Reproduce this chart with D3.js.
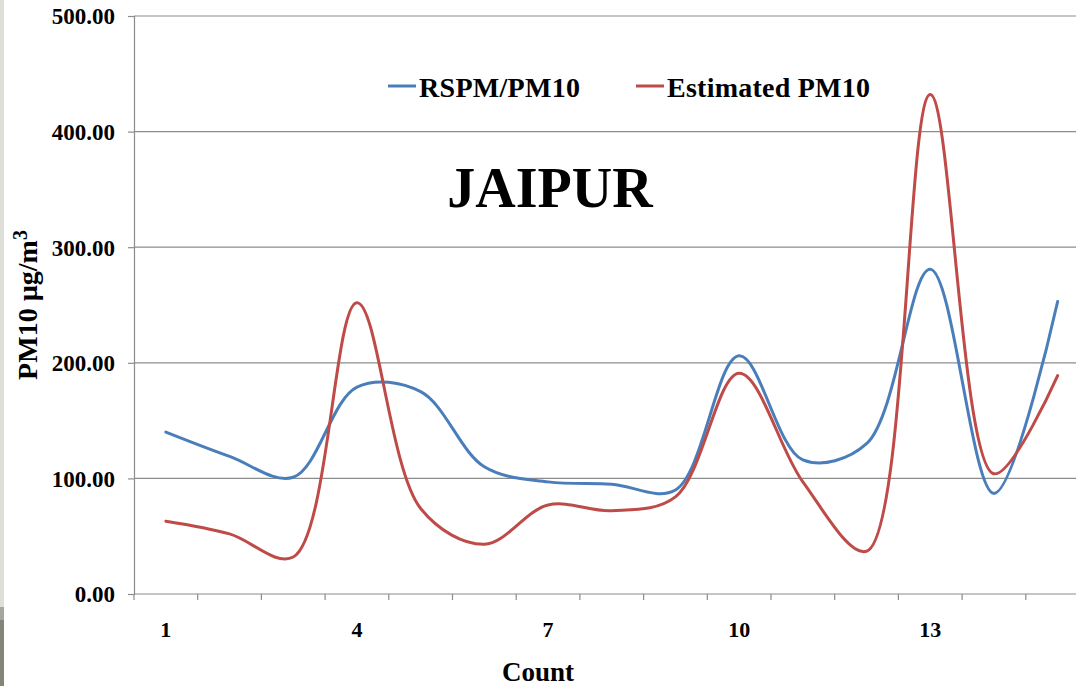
<!DOCTYPE html>
<html>
<head>
<meta charset="utf-8">
<script src="https://cdn.jsdelivr.net/npm/d3@7/dist/d3.min.js"></script>
<style>
  html, body { margin: 0; padding: 0; background: #ffffff; }
  svg { display: block; }
  text { font-family: "Liberation Serif", "Times New Roman", serif; font-weight: bold; fill: #000; }
</style>
</head>
<body>
<svg id="chart" width="1076" height="686"></svg>
<script>
// Monitoring counts along the x axis
const counts = [1, 2, 3, 4, 5, 6, 7, 8, 9, 10, 11, 12, 13, 14, 15];
// Measured RSPM / PM10 (µg/m3)
const rspmPM10 = [140, 119, 101, 179, 175, 110, 97, 95, 90, 206, 116, 130, 281, 87, 253];
// Estimated PM10 (µg/m3)
const estimatedPM10 = [63, 52, 32, 252, 74, 43, 77, 72, 84, 191, 97, 37, 432, 104, 189];
// Axis ticks
const yTicks = [0, 100, 200, 300, 400, 500];
const xTickLabels = [1, 4, 7, 10, 13];

const seriesNames = ["RSPM/PM10", "Estimated PM10"];
const seriesColors = ["#4a7ebb", "#be4b48"];

const W = 1076, H = 686;
const svg = d3.select("#chart");

// page background with the slide edge strip on the left
svg.append("rect").attr("width", W).attr("height", H).attr("fill", "#ffffff");
svg.append("rect").attr("x", 0).attr("y", 0).attr("width", 4).attr("height", 607).attr("fill", "#dfdfd9");
svg.append("rect").attr("x", 0).attr("y", 607).attr("width", 4).attr("height", 13).attr("fill", "#a6a69e");
svg.append("rect").attr("x", 0).attr("y", 620).attr("width", 4).attr("height", 66).attr("fill", "#848478");

const plotLeft = 134, plotTop = 16, plotBottom = 594;
const band = 63.7;

const x = d3.scaleBand().domain(counts).range([plotLeft, plotLeft + band * counts.length]).paddingInner(0).paddingOuter(0);
const y = d3.scaleLinear().domain([0, 500]).range([plotBottom, plotTop]);
const cx = d => x(d) + x.bandwidth() / 2;

// horizontal gridlines
svg.append("g").selectAll("line").data(yTicks.filter(v => v > 0)).join("line")
  .attr("x1", plotLeft).attr("x2", W)
  .attr("y1", d => y(d)).attr("y2", d => y(d))
  .attr("stroke", "#8c8c8c").attr("stroke-width", 1.2);

// y axis
const yAxis = d3.axisLeft(y).tickValues(yTicks).tickSize(6).tickPadding(13).tickFormat(d3.format(".2f"));
const gy = svg.append("g").attr("transform", `translate(${plotLeft},0)`).call(yAxis);
gy.select(".domain").attr("stroke", "#8c8c8c").attr("stroke-width", 1.2);
gy.selectAll(".tick line").attr("stroke", "#8c8c8c").attr("stroke-width", 1.2);
gy.selectAll(".tick text").attr("font-size", 23).attr("font-family", "Liberation Serif").attr("font-weight", "bold").attr("fill", "#000").attr("dy", "0.34em");

// x axis: tick marks on category boundaries, labels every third count
const boundaries = d3.range(counts.length + 1).map(i => plotLeft + i * band);
svg.append("line").attr("x1", plotLeft).attr("x2", W).attr("y1", plotBottom).attr("y2", plotBottom)
  .attr("stroke", "#8c8c8c").attr("stroke-width", 1.2);
svg.append("g").selectAll("line").data(boundaries).join("line")
  .attr("x1", d => d).attr("x2", d => d).attr("y1", plotBottom).attr("y2", plotBottom + 6)
  .attr("stroke", "#8c8c8c").attr("stroke-width", 1.2);
svg.append("g").selectAll("text").data(xTickLabels).join("text")
  .attr("x", d => cx(d)).attr("y", 637).attr("text-anchor", "middle").attr("font-size", 22)
  .text(d => d);

// axis titles
svg.append("text").attr("x", 538).attr("y", 681).attr("text-anchor", "middle").attr("font-size", 27).text("Count");
const yt = svg.append("text").attr("transform", "translate(37,305) rotate(-90)").attr("text-anchor", "middle").attr("font-size", 28);
yt.append("tspan").text("PM10 µg/m");
yt.append("tspan").attr("dy", -10).attr("font-size", 20).text("3");

// city title
svg.append("text").attr("x", 550).attr("y", 207).attr("text-anchor", "middle").attr("font-size", 56).text("JAIPUR");

// series lines
const line = d3.line().x((d, i) => cx(counts[i])).y(d => y(d)).curve(d3.curveCatmullRom.alpha(0.5));
[rspmPM10, estimatedPM10].forEach((vals, k) => {
  svg.append("path").datum(vals).attr("d", line)
    .attr("fill", "none").attr("stroke", seriesColors[k]).attr("stroke-width", 3)
    .attr("stroke-linejoin", "round").attr("stroke-linecap", "round");
});

// legend
const legendItems = [{x: 388, w: 161}, {x: 636, w: 203}];
legendItems.forEach((it, k) => {
  const g = svg.append("g").attr("transform", `translate(${it.x},86)`);
  g.append("line").attr("x1", 0).attr("x2", 28).attr("y1", 0).attr("y2", 0)
    .attr("stroke", seriesColors[k]).attr("stroke-width", 3);
  g.append("text").attr("x", 31).attr("y", 11).attr("font-size", 28)
    .attr("textLength", it.w).attr("lengthAdjust", "spacing").text(seriesNames[k]);
});
</script>
</body>
</html>
